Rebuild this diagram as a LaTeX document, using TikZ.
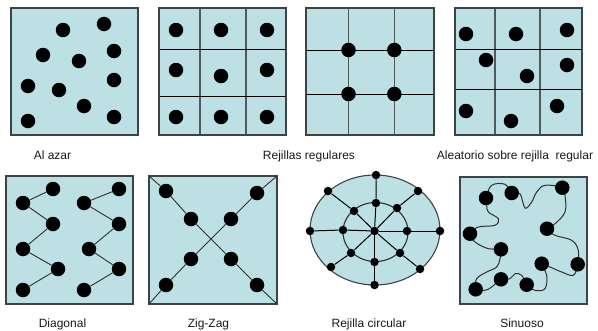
\documentclass[tikz,border=0pt]{standalone}
\usepackage{fontspec}
\setmainfont{Liberation Sans}
\definecolor{panelc}{HTML}{BCE0E3}
\definecolor{framec}{HTML}{3C4444}
\definecolor{linkc}{HTML}{303030}
\definecolor{vgridc}{HTML}{505A5A}
\begin{document}
\begin{tikzpicture}[x=1pt,y=-1pt,
  panel/.style={fill=panelc, draw=framec, line width=1.2pt},
  dot/.style={circle, fill=black, inner sep=0pt, minimum size=14.5pt},
  sdot/.style={circle, fill=black, inner sep=0pt, minimum size=8.5pt},
  hgrid/.style={draw=black, line width=1pt},
  vgrid/.style={draw=vgridc, line width=1.2pt},
  link/.style={draw=linkc, line width=0.9pt},
  lab/.style={anchor=base, font=\fontsize{12}{14}\selectfont, inner sep=0pt, text=black!90}]
\useasboundingbox (0,0) rectangle (598,330);

% ---------- Panel 1: Al azar ----------
\draw[panel] (11,8) rectangle (138,135);
\foreach \p [count=\i] in {(63,30),(104,24),(43,55),(79,61),(114,51),(28,86),(59,90),(114,80),(84,106),(28,121),(114,117)}
  \node[dot] (a\i) at \p {};

% ---------- Panel 2: Rejillas regulares ----------
\draw[panel] (159,8) rectangle (286,135);
\draw[vgrid] (200,8) -- (200,135) (246,8) -- (246,135);
\draw[hgrid] (159,49) -- (286,49) (159,96) -- (286,96);
\draw[panel, fill=none] (159,8) rectangle (286,135);
\foreach \p [count=\i] in {(176,30),(221,30),(267,30),(176,70),(221,76),(267,70),(176,117),(221,117),(267,117)}
  \node[dot] (b\i) at \p {};

% ---------- Panel 3 ----------
\draw[panel] (306,8) rectangle (434,135);
\draw[vgrid] (348.5,8) -- (348.5,135) (394.3,8) -- (394.3,135);
\draw[hgrid] (306,50) -- (434,50) (306,94) -- (434,94);
\draw[panel, fill=none] (306,8) rectangle (434,135);
\foreach \p [count=\i] in {(348.5,50),(394.3,50),(348.5,94),(394.3,94)}
  \node[dot] (c\i) at \p {};

% ---------- Panel 4: Aleatorio sobre rejilla regular ----------
\draw[panel] (455,8) rectangle (582,135);
\draw[vgrid] (495,8) -- (495,135) (540,8) -- (540,135);
\draw[hgrid] (455,49) -- (582,49) (455,89) -- (582,89);
\draw[panel, fill=none] (455,8) rectangle (582,135);
\foreach \p [count=\i] in {(466,34),(516,34),(567,30),(486,60),(527,76),(567,65),(466,111),(511,121),(557,106)}
  \node[dot] (d\i) at \p {};

% ---------- Panel 5: Diagonal ----------
\draw[panel] (6,176) rectangle (133,304);
\foreach \p [count=\i] in {(53,189),(23,203),(53,224),(23,249),(58,269),(23,290)}
  \node[dot] (e\i) at \p {};
\foreach \p [count=\i] in {(119,189),(84,203),(119,224),(89,249),(119,269),(84,290)}
  \node[dot] (f\i) at \p {};
\draw[link] (e1) -- (e2) -- (e3) -- (e4) -- (e5) -- (e6);
\draw[link] (f1) -- (f2) -- (f3) -- (f4) -- (f5) -- (f6);

% ---------- Panel 6: Zig-Zag ----------
\draw[panel] (149,176) rectangle (277,304);
\coordinate (zTL) at (149,176);
\coordinate (zTR) at (277,176);
\coordinate (zBL) at (149,304);
\coordinate (zBR) at (277,304);
\foreach \p [count=\i] in {(166,191),(191,219),(231,259),(257,285)}
  \node[dot] (g\i) at \p {};
\foreach \p [count=\i] in {(257,193),(231,219),(191,259),(166,285)}
  \node[dot] (h\i) at \p {};
\draw[link] (zTL) -- (g1) -- (g2) -- (g3) -- (g4) -- (zBR);
\draw[link] (zTR) -- (h1) -- (h2) -- (h3) -- (h4) -- (zBL);

% ---------- Panel 7: Rejilla circular ----------
\draw[fill=panelc, draw=framec, line width=1.1pt] (375,230) ellipse [x radius=65, y radius=55];
\draw[draw=linkc, line width=1.1pt] (375.5,232) ellipse [x radius=32.5, y radius=29.5];
\node[sdot] (k0) at (374.5,231) {};
\foreach \p [count=\i] in {(376,175),(418,191),(440,231),(420,269),(374.5,285),(331,267),(310,231),(328,191)}
  \node[sdot] (ko\i) at \p {};
\foreach \p [count=\i] in {(376,203),(397,208),(407,231),(400,253),(374.5,262),(351,253),(343,230),(354,211)}
  \node[sdot] (ki\i) at \p {};
\foreach \i in {1,...,8}
  \draw[draw=black, line width=1pt] (k0) -- (ki\i) -- (ko\i);

% ---------- Panel 8: Sinuoso ----------
\draw[panel] (460,177) rectangle (587,304);
\foreach \x/\y [count=\i] in {486/198,511.7/193,562.3/187.7,547/228.7,577.7/264.3,541.7/263.7,526.7/284.7,501/279.3,475.7/289.3,501/249.3,470/233.7}
  \coordinate (s\i) at (\x,\y);
\draw[draw=linkc, line width=1pt] plot[smooth cycle, tension=0.6] coordinates {
  (s1) (491.7,185.3) (505,184.3)
  (s2) (520,193.7) (525,208) (531.7,202) (536.7,192) (545,185.3)
  (s3) (565,195.3) (565,212) (555,223.7)
  (s4) (555,235.3) (571.7,240.3) (578.3,250.3)
  (s5) (573.3,275.3) (561.7,272) (550,267)
  (s6) (546.7,275.3) (545,288.7) (535,290.3)
  (s7) (521.7,275.3) (515,273.7) (510,278.7)
  (s8) (491.7,287) (485,290.3)
  (s9) (476.7,278.7) (486.7,272) (496.7,267) (500,258.7)
  (s10) (488.3,248.7) (475,242)
  (s11) (478.3,227) (495,225.3) (498.3,218.7) (488.3,212) (486.7,205.3)};
\foreach \i in {1,...,11}
  \node[dot] (S\i) at (s\i) {};

% ---------- Labels ----------
\node[lab] (l1) at (52.5,159) {Al azar};
\node[lab] (l2) at (309,159) {Rejillas regulares};
\node[lab] (l3) at (515,159) {Aleatorio sobre rejilla\ \ regular};
\node[lab] (l4) at (62.5,327) {Diagonal};
\node[lab] (l5) at (208.5,327) {Zig-Zag};
\node[lab] (l6) at (369,327) {Rejilla circular};
\node[lab] (l7) at (522,327) {Sinuoso};
\end{tikzpicture}
\end{document}
